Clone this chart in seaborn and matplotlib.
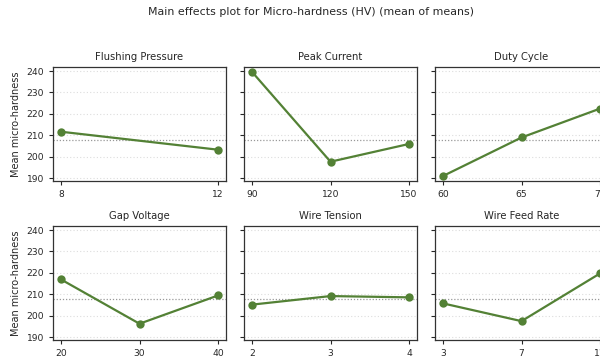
import matplotlib
matplotlib.use("Agg")
import matplotlib.pyplot as plt
import seaborn as sns
import pandas as pd

# factors and their level means
factors = ["Flushing Pressure", "Peak Current", "Duty Cycle",
           "Gap Voltage", "Wire Tension", "Wire Feed Rate"]
levels = [[8, 12], [90, 120, 150], [60, 65, 70],
          [20, 30, 40], [2, 3, 4], [3, 7, 11]]
means = [[211.7, 203.3], [239.7, 197.7, 206.0], [191.0, 209.0, 222.5],
         [217.0, 196.3, 209.5], [205.2, 209.2, 208.6], [205.8, 197.5, 219.8]]
grand_mean = 207.6

sns.set_style("ticks")
plt.rcParams['font.family'] = ['DejaVu Sans']

green = "#538135"
fig = plt.figure(figsize=(6.0, 3.6), dpi=100)
W, H = 600.0, 360.0

lefts = [53, 244, 435]
tops = [67, 226]
aw, ah = 173, 114

fig.suptitle("Main effects plot for Micro-hardness (HV) (mean of means)",
             fontsize=7.9, x=311 / W, y=1 - 12 / H, va="center", color="#262626")

for i, name in enumerate(factors):
    r, c = divmod(i, 3)
    ax = fig.add_axes([lefts[c] / W, 1 - (tops[r] + ah) / H, aw / W, ah / H])
    df = pd.DataFrame({"level": levels[i], "mean": means[i]})
    ax.axhline(grand_mean, color="#999999", ls=(0, (1, 1.5)), lw=0.9, zorder=1)
    sns.lineplot(data=df, x="level", y="mean", ax=ax, color=green,
                 marker="o", markersize=6, markeredgewidth=0, lw=1.6, zorder=3)
    ax.set_ylim(188.7, 241.9)
    ax.set_yticks([190, 200, 210, 220, 230, 240])
    ax.set_xticks(levels[i])
    ax.yaxis.grid(True, ls=(0, (1, 2)), color="#dddddd", lw=0.8)
    ax.set_title(name, fontsize=7.2, color="#262626", pad=5)
    ax.set_xlabel("")
    ax.tick_params(labelsize=6.6, length=3, width=0.8, colors="#262626")
    for s in ax.spines.values():
        s.set_linewidth(0.9)
        s.set_color("#333333")
    if c == 0:
        ax.set_ylabel("Mean micro-hardness", fontsize=7.0, color="#262626")
    else:
        ax.set_ylabel("")
        ax.set_yticklabels([])

fig.savefig("out.png", dpi=100)
